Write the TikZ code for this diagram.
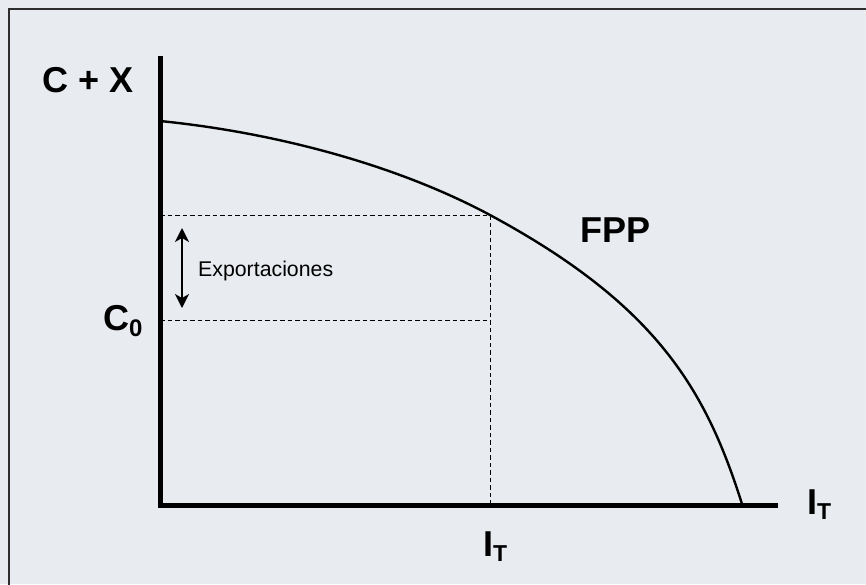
\documentclass[tikz,border=0pt]{standalone}
\usepackage{fontspec}
\setmainfont{Liberation Sans}
\usetikzlibrary{arrows.meta,positioning,calc}
\definecolor{bgpanel}{HTML}{E8EBF0}
\definecolor{frameline}{HTML}{2E2E2E}

\begin{document}
\begin{tikzpicture}[
    x=1pt,y=-1pt,
    axis/.style={line width=5pt,black},
    fpp/.style={line width=2.4pt,black},
    guide/.style={line width=1pt,dash pattern=on 4.5pt off 3pt,black},
    arr/.style={{Stealth[length=14pt,width=14pt,inset=4pt]}-{Stealth[length=14pt,width=14pt,inset=4pt]},line width=1.6pt},
    big/.style={font=\fontsize{36}{40}\selectfont\bfseries,inner sep=0pt,anchor=base west},
    small/.style={font=\fontsize{21.3}{24}\selectfont,inner sep=0pt,anchor=base west}
]
% panel
\fill[bgpanel] (0,0) rectangle (866,584);
\useasboundingbox (0,0) rectangle (866,584);
\begin{scope}
\clip (0,0) rectangle (866,584);
\draw[frameline,line width=2pt] (9,9) rectangle (880,600);
\end{scope}

% axes
\coordinate (O) at (160,505);
\coordinate (ytop) at (160,56);
\coordinate (xend) at (778,505);
\draw[axis] (ytop) -- (O) -- (xend);

% frontier
\coordinate (S) at (160,121);
\coordinate (P) at (490,215);
\coordinate (E) at (742,504);
\draw[fpp] (S) .. controls (270,132) and (393,163) .. (P)
                .. controls (657,305) and (706,390) .. (E);

% guides
\coordinate (Ptop) at (P -| O);
\coordinate (Pbot) at (P |- O);
\coordinate (C0) at (160,320);
\coordinate (C0r) at (C0 -| P);
\draw[guide] (Ptop) -- (P) -- (Pbot);
\draw[guide] (C0) -- (C0r);

% exports
\coordinate (Xtop) at (182,228);
\coordinate (Xbot) at (182,308);
\draw[arr] (Xtop) -- (Xbot);
\node[small] (exp) at (198,276) {Exportaciones};

% labels
\node[big] (ylab) at (42,92) {C + X};
\node[big] (c0lab) at (103,330) {C\raisebox{-6pt}{\fontsize{24}{26}\selectfont 0}};
\node[big] (fpplab) at (580,242) {FPP};
\node[big] (xlab) at (807,514) {I\raisebox{-5pt}{\fontsize{23}{26}\selectfont T}};
\node[big] (itlab) at (483,556) {I\raisebox{-5pt}{\fontsize{23}{26}\selectfont T}};
\end{tikzpicture}
\end{document}
